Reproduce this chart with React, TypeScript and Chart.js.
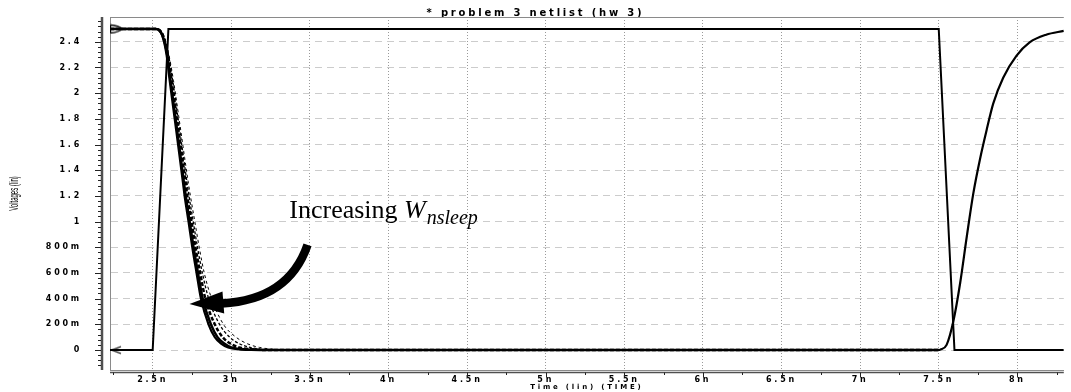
import React, { useEffect, useRef } from 'react';
import { Chart, registerables } from 'chart.js';

Chart.register(...registerables);

const TITLE = '* problem 3 netlist (hw 3)';
const X_TITLE = 'Time (lin) (TIME)';
const Y_TITLE = 'Voltages (lin)';
const NOTE_MAIN = 'Increasing';
const NOTE_VAR = 'W';
const NOTE_SUB = 'nsleep';

const X_MIN = 2.2285;
const X_MAX = 8.2955;
const Y_MIN = -0.1557;
const Y_MAX = 2.593;

const X_TICKS = [2.5, 3, 3.5, 4, 4.5, 5, 5.5, 6, 6.5, 7, 7.5, 8];
const X_TICK_LABELS = ['2.5n', '3n', '3.5n', '4n', '4.5n', '5n', '5.5n', '6n', '6.5n', '7n', '7.5n', '8n'];
const Y_TICKS = [0, 0.2, 0.4, 0.6, 0.8, 1, 1.2, 1.4, 1.6, 1.8, 2, 2.2, 2.4];
const Y_TICK_LABELS = ['0', '200m', '400m', '600m', '800m', '1', '1.2', '1.4', '1.6', '1.8', '2', '2.2', '2.4'];

// input pulse (ns, V)
const IN_TIME = [2.2285, 2.5, 2.6, 7.5, 7.6, 8.2955];
const IN_VOLT = [0, 0, 2.5, 2.5, 0, 0];

// output falling edges for five sleep-transistor widths
const FALL_VOLT = [2.5, 2.5, 2.45, 2.3, 2.1, 1.8, 1.5, 1.3, 1.2, 1.0, 0.8, 0.6, 0.4, 0.2, 0.1, 0.05, 0.02, 0.005, 0, 0];
const OUT1_TIME = [2.2285, 2.52, 2.56, 2.588, 2.608, 2.64, 2.672, 2.693, 2.703, 2.728, 2.752, 2.779, 2.807, 2.855, 2.895, 2.935, 2.98, 3.05, 3.15, 7.5];
const OUT2_TIME = [2.2285, 2.52, 2.562, 2.592, 2.613, 2.646, 2.678, 2.699, 2.71, 2.735, 2.76, 2.788, 2.818, 2.87, 2.912, 2.955, 3.0, 3.08, 3.18, 7.5];
const OUT3_TIME = [2.2285, 2.52, 2.565, 2.596, 2.62, 2.654, 2.688, 2.71, 2.72, 2.747, 2.772, 2.802, 2.835, 2.895, 2.945, 2.995, 3.05, 3.14, 3.24, 7.5];
const OUT4_TIME = [2.2285, 2.52, 2.568, 2.6, 2.627, 2.662, 2.696, 2.719, 2.731, 2.758, 2.785, 2.816, 2.856, 2.925, 2.99, 3.05, 3.12, 3.21, 3.3, 7.5];
const OUT5_TIME = [2.2285, 2.52, 2.57, 2.603, 2.632, 2.668, 2.703, 2.727, 2.74, 2.768, 2.796, 2.828, 2.875, 2.95, 3.03, 3.1, 3.18, 3.28, 3.38, 7.5];

// output rising edge (all widths coincide)
const RISE_TIME = [7.51, 7.55, 7.594, 7.636, 7.678, 7.72, 7.763, 7.804, 7.847, 7.91, 7.994, 8.078, 8.183, 8.2955];
const RISE_VOLT = [0.003, 0.04, 0.23, 0.52, 0.88, 1.22, 1.49, 1.71, 1.92, 2.12, 2.29, 2.395, 2.455, 2.485];

// annotation anchors (data coordinates)
const NOTE_AT = { t: 3.369, v: 1.026 };
const ARROW_TAIL = { t: 3.485, v: 0.818 };
const ARROW_CTRL = { t: 3.365, v: 0.39 };
const ARROW_BASE = { t: 2.94, v: 0.362 };
const ARROW_TIP = { t: 2.734, v: 0.358 };
const ARROW_C1 = { t: 2.944, v: 0.455 };
const ARROW_C2 = { t: 2.955, v: 0.285 };

const LS = '2.8px';
const TICK_FONT = { family: 'DejaVu Sans', weight: 'bold' as const, size: 8 };

const pts = (t: number[], v: number[]) => t.map((x, i) => ({ x, y: v[i] }));

function makeMarker(dir: 'right' | 'left') {
  const c = document.createElement('canvas');
  c.width = 30;
  c.height = 11;
  const g = c.getContext('2d')!;
  g.strokeStyle = '#000';
  g.lineWidth = 1.3;
  g.beginPath();
  if (dir === 'right') {
    g.moveTo(15.5, 1.5);
    g.quadraticCurveTo(23, 2, 27.5, 5.5);
    g.quadraticCurveTo(23, 9, 15.5, 9.5);
    g.moveTo(15.5, 1.5);
    g.lineTo(15.5, 9.5);
  } else {
    g.moveTo(26, 2);
    g.lineTo(17, 5.5);
    g.lineTo(26, 9);
  }
  g.stroke();
  return c;
}

const decorPlugin = {
  id: 'decor',
  beforeUpdate(chart: any) { chart.ctx.letterSpacing = LS; },
  beforeLayout(chart: any) { chart.ctx.letterSpacing = LS; },
  beforeDraw(chart: any) { chart.ctx.letterSpacing = LS; },
  afterDraw(chart: any) {
    const { ctx, chartArea: a, scales } = chart;
    const x = scales.x, y = scales.y;
    ctx.save();
    ctx.letterSpacing = '0px';
    // top frame
    ctx.strokeStyle = '#8a8a8a';
    ctx.lineWidth = 1;
    ctx.beginPath();
    ctx.moveTo(a.left, a.top + 0.5);
    ctx.lineTo(a.right, a.top + 0.5);
    ctx.stroke();
    // offset y axis with major/minor ticks
    const ax = a.left - 8;
    ctx.strokeStyle = '#505050';
    ctx.lineWidth = 2.5;
    ctx.beginPath();
    ctx.moveTo(ax, a.top);
    ctx.lineTo(ax, a.bottom);
    ctx.stroke();
    ctx.strokeStyle = '#222';
    ctx.lineWidth = 1;
    for (let k = -3; k <= 64; k++) {
      const p = y.getPixelForValue(k * 0.04);
      if (p < a.top || p > a.bottom) continue;
      const major = k % 5 === 0 && k >= 0 && k <= 60;
      const py = Math.round(p) + 0.5;
      ctx.beginPath();
      ctx.moveTo(ax - (major ? 7 : 4), py);
      ctx.lineTo(ax - 1, py);
      ctx.stroke();
    }
    // offset x axis with major/minor ticks
    const ay = a.bottom + 2.5;
    ctx.strokeStyle = '#505050';
    ctx.lineWidth = 1.5;
    ctx.beginPath();
    ctx.moveTo(a.left, ay);
    ctx.lineTo(a.right, ay);
    ctx.stroke();
    ctx.strokeStyle = '#222';
    ctx.lineWidth = 1;
    for (let k = 9; k <= 33; k++) {
      const p = x.getPixelForValue(k * 0.25);
      if (p < a.left || p > a.right) continue;
      const major = k % 2 === 0;
      const px = Math.round(p) + 0.5;
      ctx.beginPath();
      ctx.moveTo(px, ay);
      ctx.lineTo(px, ay + (major ? 5 : 2.5));
      ctx.stroke();
    }
    // y title (rotated, compressed)
    ctx.fillStyle = '#000';
    ctx.translate(15, (a.top + a.bottom) / 2);
    ctx.rotate(-Math.PI / 2);
    ctx.scale(0.5, 1);
    ctx.font = '12px "Liberation Sans"';
    ctx.textAlign = 'center';
    ctx.textBaseline = 'middle';
    ctx.fillText(Y_TITLE, 0, 0);
    ctx.restore();
  },
  afterDatasetsDraw(chart: any) {
    const { ctx, scales } = chart;
    const X = (p: { t: number }) => scales.x.getPixelForValue(p.t);
    const Y = (p: { v: number }) => scales.y.getPixelForValue(p.v);
    ctx.save();
    ctx.letterSpacing = '0px';
    ctx.strokeStyle = '#000';
    ctx.fillStyle = '#000';
    ctx.lineWidth = 8.5;
    ctx.lineCap = 'butt';
    ctx.beginPath();
    ctx.moveTo(X(ARROW_TAIL), Y(ARROW_TAIL));
    ctx.quadraticCurveTo(X(ARROW_CTRL), Y(ARROW_CTRL), X(ARROW_BASE), Y(ARROW_BASE));
    ctx.stroke();
    ctx.beginPath();
    ctx.moveTo(X(ARROW_TIP), Y(ARROW_TIP));
    ctx.lineTo(X(ARROW_C1), Y(ARROW_C1));
    ctx.lineTo(X(ARROW_C2), Y(ARROW_C2));
    ctx.closePath();
    ctx.fill();
    const nx = X(NOTE_AT), ny = Y(NOTE_AT);
    ctx.textAlign = 'left';
    ctx.textBaseline = 'alphabetic';
    ctx.font = '26px "Liberation Serif"';
    ctx.fillText(NOTE_MAIN, nx, ny);
    let cx = nx + ctx.measureText(NOTE_MAIN + ' ').width;
    ctx.font = 'italic 26px "Liberation Serif"';
    ctx.fillText(NOTE_VAR, cx, ny);
    cx += ctx.measureText(NOTE_VAR).width + 1;
    ctx.font = 'italic 20px "Liberation Serif"';
    ctx.fillText(NOTE_SUB, cx, ny + 6);
    ctx.restore();
  },
};

export default function App() {
  const ref = useRef<HTMLCanvasElement>(null);
  useEffect(() => {
    const rightMark = makeMarker('right');
    const leftMark = makeMarker('left');
    const firstRadius = (c: any) => (c.dataIndex === 0 ? 5 : 0);
    const outBase = {
      borderColor: '#000',
      cubicInterpolationMode: 'monotone' as const,
      pointRadius: 0,
      fill: false,
    };
    const chart = new Chart(ref.current!, {
      type: 'line',
      data: {
        datasets: [
          {
            label: 'in',
            data: pts(IN_TIME, IN_VOLT),
            borderColor: '#000',
            borderWidth: 2,
            tension: 0,
            pointRadius: firstRadius,
            pointStyle: (c: any) => (c.dataIndex === 0 ? leftMark : 'circle'),
          },
          { ...outBase, label: 'out5', data: pts(OUT5_TIME, FALL_VOLT), borderWidth: 1, borderDash: [3, 3] },
          { ...outBase, label: 'out4', data: pts(OUT4_TIME, FALL_VOLT), borderWidth: 1.3, borderDash: [3, 2] },
          { ...outBase, label: 'out3', data: pts(OUT3_TIME, FALL_VOLT), borderWidth: 2.5, borderDash: [4, 2] },
          { ...outBase, label: 'out2', data: pts(OUT2_TIME, FALL_VOLT), borderWidth: 2.5 },
          {
            ...outBase,
            label: 'out1',
            data: pts([...OUT1_TIME, ...RISE_TIME], [...FALL_VOLT, ...RISE_VOLT]),
            borderWidth: 2.2,
            pointRadius: firstRadius,
            pointStyle: (c: any) => (c.dataIndex === 0 ? rightMark : 'circle'),
          },
        ],
      },
      options: {
        animation: false,
        responsive: true,
        maintainAspectRatio: false,
        events: [],
        layout: { padding: 0 },
        plugins: {
          legend: { display: false },
          tooltip: { enabled: false },
          title: {
            display: true,
            text: TITLE,
            color: '#000',
            font: { family: 'DejaVu Sans', weight: 'bold', size: 10, lineHeight: 1 },
            padding: { top: 8, bottom: -1 },
          },
        },
        scales: {
          x: {
            type: 'linear',
            min: X_MIN,
            max: X_MAX,
            afterBuildTicks: (s: any) => { s.ticks = X_TICKS.map((value) => ({ value })); },
            afterFit: (s: any) => { s.height = 22; },
            ticks: {
              callback: (_v: any, i: number) => X_TICK_LABELS[i],
              autoSkip: false,
              maxRotation: 0,
              padding: 0,
              color: '#000',
              font: TICK_FONT,
            },
            grid: { color: '#9a9a9a', lineWidth: 1, drawTicks: true, tickLength: 5, tickColor: 'rgba(0,0,0,0)' },
            border: { display: true, color: '#8a8a8a', width: 1, dash: [1, 2] },
            title: {
              display: true,
              text: X_TITLE,
              color: '#000',
              font: { family: 'DejaVu Sans', weight: 'bold', size: 7, lineHeight: 1.2 },
              padding: { top: 0, bottom: 1 },
            },
          },
          y: {
            type: 'linear',
            min: Y_MIN,
            max: Y_MAX,
            afterBuildTicks: (s: any) => { s.ticks = Y_TICKS.map((value) => ({ value })); },
            afterFit: (s: any) => { s.width = 110; },
            ticks: {
              callback: (_v: any, i: number) => Y_TICK_LABELS[i],
              autoSkip: false,
              padding: 0,
              color: '#000',
              font: TICK_FONT,
            },
            grid: { color: '#cccccc', lineWidth: 1, drawTicks: true, tickLength: 28, tickColor: 'rgba(0,0,0,0)' },
            border: { display: true, color: '#8a8a8a', width: 1, dash: [7, 5] },
            title: { display: false },
          },
        },
      },
      plugins: [decorPlugin],
    } as any);
    return () => chart.destroy();
  }, []);
  return (
    <div style={{ position: 'absolute', left: 0, top: 0, width: 1071, height: 392, background: '#fff' }}>
      <canvas ref={ref} />
    </div>
  );
}
